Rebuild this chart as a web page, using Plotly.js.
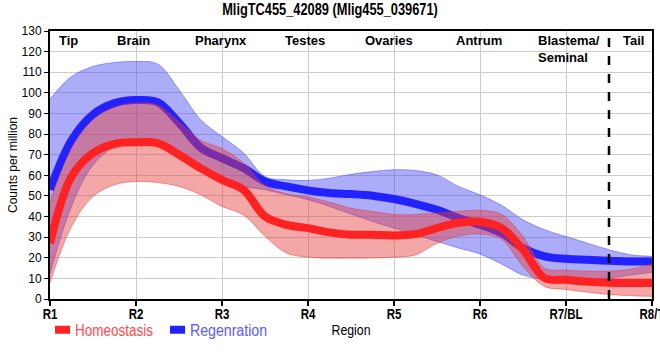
<!DOCTYPE html>
<html>
<head>
<meta charset="utf-8">
<script src="https://cdn.plot.ly/plotly-3.0.1.min.js"></script>
<style>html,body{margin:0;padding:0;background:#fff}#chart{width:660px;height:360px}</style>
</head>
<body>
<div id="chart"></div>
<script>
// Positions along the body (0 = R1 ... 7 = R8/T), sampled every quarter region
const position = [0,0.25,0.5,0.75,1,1.25,1.5,1.75,2,2.25,2.5,2.75,3,3.25,3.5,3.75,4,4.25,4.5,4.75,5,5.25,5.5,5.75,6,6.25,6.5,6.75,7];
const tickLabels = ["R1","R2","R3","R4","R5","R6","R7/BL","R8/T"];

// Homeostasis (red)
const homeoMean  = [27,59.4,70.8,75.3,76,75.6,70,63.5,57.8,53,40,36,34.4,32.3,31.2,31.2,30.8,31.5,34.4,37,37.5,34.5,23.9,10.2,9.3,8.4,7.9,7.8,7.8];
const homeoUpper = [47,73,87,93,95,94,86,77,73,66,55,51,49.5,47,44,42.5,41,41,41.7,42.5,43,41,30.3,15,14,13.5,13.5,14.5,17];
const homeoLower = [8,35.2,49.7,55.4,57,56.5,54.6,50.6,44.9,40.8,30.4,22.3,20.3,19.8,19.8,19.9,20.3,21.4,27,30.5,31.5,29,15.8,6.1,4.6,3.3,2.2,1.6,1.3];

// Regeneration (blue)
const regenMean  = [53,77,89.5,95,96.5,95.5,85.5,73.5,68.3,63.5,57,54.6,52.7,51.4,50.9,50.1,48.5,46.2,43.3,39.3,36,32,24.7,20.7,19.5,19,18.5,18.2,18.2];
const regenUpper = [97,107.9,112.8,114.7,115.2,114,101.5,87,78.8,70.8,59.4,57.8,57.5,58.6,60.5,61.8,62.7,62.3,60.2,54.6,50.5,45.5,38.4,33.6,30.3,27.1,23.9,21.5,20.7];
const regenLower = [12,45,65,74,77.5,77,72,63,58,54.6,53,50.6,48.2,44.9,41.2,37.6,34.4,31.2,27.9,24.7,21.8,17,11.6,9.5,9.2,9.5,10,11.6,13];

// Region labels along the top
const regionNames = ["Tip","Brain","Pharynx","Testes","Ovaries","Antrum","Blastema/<br>Seminal","Tail"];
const regionPos   = [0.22,0.97,1.99,2.96,3.94,4.99,5.65,6.78];
const tailBoundary = 6.5;

const blueFill = 'rgba(70,70,240,0.45)';
const redFill  = 'rgba(230,60,60,0.45)';
const sp = {shape:'spline', smoothing:1};

const traces = [
  {x:position, y:regenLower, mode:'lines', line:Object.assign({color:'rgba(70,70,240,0.5)', width:1}, sp), showlegend:false, hoverinfo:'skip'},
  {x:position, y:regenUpper, mode:'lines', fill:'tonexty', fillcolor:blueFill, line:Object.assign({color:'rgba(70,70,240,0.5)', width:1}, sp), showlegend:false, hoverinfo:'skip'},
  {x:position, y:regenMean, mode:'lines', name:'<span style="color:#5a5aff">Regenration</span>', line:Object.assign({color:'#2222ff', width:8}, sp)},
  {x:position, y:homeoLower, mode:'lines', line:Object.assign({color:'rgba(230,60,60,0.5)', width:1}, sp), showlegend:false, hoverinfo:'skip'},
  {x:position, y:homeoUpper, mode:'lines', fill:'tonexty', fillcolor:redFill, line:Object.assign({color:'rgba(230,60,60,0.5)', width:1}, sp), showlegend:false, hoverinfo:'skip'},
  {x:position, y:homeoMean, mode:'lines', name:'<span style="color:#ff4a4a">Homeostasis</span>', line:Object.assign({color:'#ff2222', width:8}, sp)}
];

const sans = '"Liberation Sans", Arial, sans-serif';
const annotations = regionNames.map((t,i)=>({
  x: regionPos[i], xref:'x', y:1, yref:'paper', yanchor:'top', yshift:0,
  xanchor: t.indexOf('<br>')>=0 ? 'left' : 'center', align:'left',
  text:'<b>'+t+'</b>', showarrow:false,
  font:{family:sans, size:13, color:'#000'}
}));

const layout = {
  width:660, height:360,
  margin:{l:50, r:8, t:31, b:61},
  paper_bgcolor:'#fff', plot_bgcolor:'#fff',
  title:{text:'<b>MligTC455_42089 (Mlig455_039671)</b>', x:0.5, xref:'container', y:0.975, yref:'container', yanchor:'middle',
         font:{family:sans, size:16, color:'#000'}},
  xaxis:{range:[0,7], tickmode:'array', tickvals:[0,1,2,3,4,5,6,7], ticktext:tickLabels.map(t=>'<b>'+t+'</b>'),
         showgrid:true, gridcolor:'#cccccc', gridwidth:1, showline:true, linecolor:'#000', linewidth:2, mirror:true,
         ticks:'outside', ticklen:5, tickcolor:'#000', tickwidth:2, zeroline:false, ticklabeloverflow:'allow',
         ticklabelstandoff:-4,
         tickfont:{family:sans, size:14, color:'#000'},
         title:{text:'Region', standoff:4, font:{family:sans, size:15, color:'#000'}}},
  yaxis:{range:[0,130], dtick:10, showgrid:true, gridcolor:'#cccccc', gridwidth:1, showline:true, linecolor:'#000', linewidth:2, mirror:true,
         ticks:'outside', ticklen:4, tickcolor:'#000', zeroline:false,
         tickfont:{family:sans, size:12, color:'#000'},
         title:{text:'Counts per million', standoff:1, font:{family:sans, size:12, color:'#000'}}},
  legend:{orientation:'h', x:-0.01, xanchor:'left', y:-0.115, yanchor:'middle', traceorder:'reversed',
          font:{family:sans, size:16}, itemwidth:30, bgcolor:'rgba(0,0,0,0)'},
  shapes:[{type:'line', xref:'x', yref:'paper', x0:tailBoundary, x1:tailBoundary, y0:0, y1:1, line:{color:'#000', width:2.5, dash:'dash'}}],
  annotations: annotations,
  showlegend:true
};

// Condense texts to mimic the narrow face used in the original
function condense(gd, selector, factor){
  gd.querySelectorAll(selector).forEach(el=>{
    const w = el.getComputedTextLength();
    if (w > 0){ el.setAttribute('textLength', (w*factor).toFixed(2)); el.setAttribute('lengthAdjust','spacingAndGlyphs'); }
  });
}

Plotly.newPlot('chart', traces, layout, {displayModeBar:false, staticPlot:true}).then(gd=>{
  condense(gd, '.gtitle', 0.8);
  condense(gd, '.xtick text', 0.82);
  condense(gd, '.xtitle', 0.82);
  // compact legend swatches like the original
  const leg = gd.querySelector('g.legend');
  if (leg){
    const m = /translate\(([-\d.]+)[ ,]+([-\d.]+)\)/.exec(leg.getAttribute('transform')||'');
    const lx = m ? parseFloat(m[1]) : 0;
    const targets = [55, 170];
    const widths = [78, 77];
    leg.querySelectorAll('g.traces').forEach((g,k)=>{
      const tm = /translate\(([-\d.]+)[ ,]+([-\d.]+)\)/.exec(g.getAttribute('transform')||'');
      const iy = tm ? parseFloat(tm[2]) : 0;
      g.setAttribute('transform', 'translate(' + (targets[k]-5-lx) + ',' + iy + ')');
      g.querySelectorAll('.legendlines path').forEach(p=>p.setAttribute('d','M5,0h15'));
      const t = g.querySelector('.legendtext');
      if (t){
        t.setAttribute('x', 25); t.querySelectorAll('tspan[x]').forEach(s=>s.setAttribute('x',25));
        t.setAttribute('textLength', widths[k]); t.setAttribute('lengthAdjust','spacingAndGlyphs');
      }
    });
  }
});
</script>
</body>
</html>
